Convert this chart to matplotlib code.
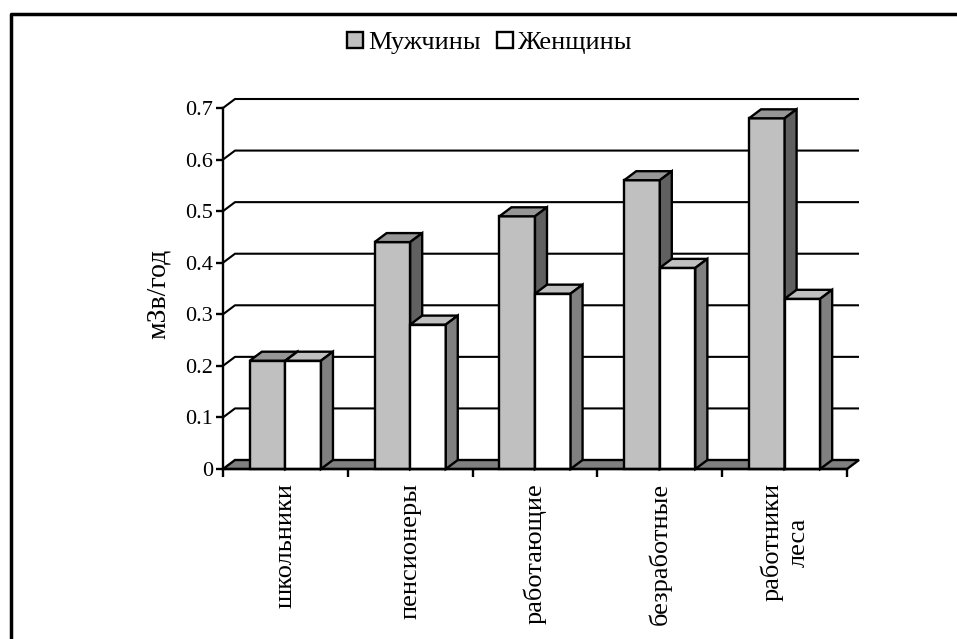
import matplotlib
matplotlib.use('Agg')
import matplotlib.pyplot as plt
from matplotlib.patches import Polygon, Patch
from matplotlib.lines import Line2D

categories = ['школьники', 'пенсионеры', 'работающие', 'безработные', 'работники\nлеса']
men = [0.21, 0.44, 0.49, 0.56, 0.68]
women = [0.21, 0.28, 0.34, 0.39, 0.33]
series_names = ['Мужчины', 'Женщины']
yticks = [0, 0.1, 0.2, 0.3, 0.4, 0.5, 0.6, 0.7]
ytick_labels = ['0', '0.1', '0.2', '0.3', '0.4', '0.5', '0.6', '0.7']
ylabel = 'мЗв/год'

# front, top, side colours for each series
face_cols = [('#c0c0c0', '#969696', '#606060'), ('#ffffff', '#c0c0c0', '#808080')]

plt.rcParams['font.family'] = ['Liberation Serif', 'DejaVu Serif']

W, H = 957, 639
fig = plt.figure(figsize=(W / 100, H / 100), dpi=100)
ax = fig.add_axes([223 / W, 1 - 469 / H, (847 - 223) / W, (469 - 108) / H])
n = len(categories)
ymax = yticks[-1]
ax.set_xlim(0, n)
ax.set_ylim(0, ymax)

# depth of the 3d box, given in pixels and turned into data units
pos = ax.get_position()
dx = 12 / (pos.width * W / n)
dy = 9 / (pos.height * H / ymax)
lw = 1.7

# back wall gridlines with the short diagonal on the side wall
for v in yticks[1:]:
    ax.plot([0, dx, n + dx], [v, v + dy, v + dy], color='k', lw=1.5,
            clip_on=False, zorder=1, solid_capstyle='butt')

# floor
ax.add_patch(Polygon([(0, 0), (n, 0), (n + dx, dy), (dx, dy)], closed=True,
                     fc='#808080', ec='k', lw=lw, clip_on=False, zorder=1.5))

w = 0.285
z = 2
for i in range(n):
    for k, vals in enumerate([men, women]):
        h = vals[i]
        front, top, side = face_cols[k]
        x0 = i + 0.5 - w + k * w
        ax.bar(x0, h, width=w, align='edge', color=front, edgecolor='k',
               lw=lw, zorder=z, clip_on=False)
        ax.add_patch(Polygon([(x0, h), (x0 + w, h), (x0 + w + dx, h + dy), (x0 + dx, h + dy)],
                             closed=True, fc=top, ec='k', lw=lw, zorder=z, clip_on=False))
        ax.add_patch(Polygon([(x0 + w, 0), (x0 + w + dx, dy), (x0 + w + dx, h + dy), (x0 + w, h)],
                             closed=True, fc=side, ec='k', lw=lw, zorder=z, clip_on=False))
        z += 0.1

for s in ['top', 'right']:
    ax.spines[s].set_visible(False)
for s in ['left', 'bottom']:
    ax.spines[s].set_linewidth(lw)
    ax.spines[s].set_zorder(10)

ax.set_yticks(yticks)
ax.set_yticklabels(ytick_labels, fontsize=16)
ax.tick_params(axis='y', direction='out', length=5, width=lw, pad=2)

ax.set_xticks(range(n + 1))
ax.set_xticklabels([])
ax.set_xticks([i + 0.5 for i in range(n)], minor=True)
ax.set_xticklabels(categories, minor=True, rotation=90, fontsize=19,
                   va='top', ha='center', linespacing=1.25)
ax.tick_params(axis='x', which='major', direction='out', length=5.5, width=lw)
ax.tick_params(axis='x', which='minor', length=0, pad=10)

fig.text(158 / W, 1 - 294 / H, ylabel, rotation=90, ha='center', va='center', fontsize=20)

handles = [Patch(fc=face_cols[0][0], ec='k', lw=lw), Patch(fc=face_cols[1][0], ec='k', lw=lw)]
fig.legend(handles, series_names, loc='center', bbox_to_anchor=(490 / W, 1 - 43 / H),
           ncol=2, frameon=False, fontsize=19, handlelength=0.6, handleheight=0.6,
           handletextpad=0.2, columnspacing=0.6, borderpad=0)

# chart frame (only top and left edges fall inside the image)
fig.add_artist(Line2D([11 / W, 11 / W, 1], [0, 1 - 14 / H, 1 - 14 / H],
                      transform=fig.transFigure, color='k', lw=2.5))

fig.savefig('out.png', dpi=100)
